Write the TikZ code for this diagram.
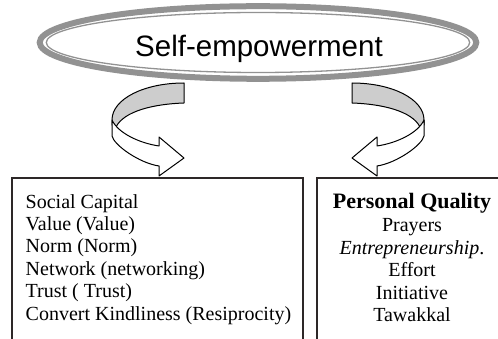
\documentclass[tikz,border=0pt]{standalone}
\usepackage{fontspec}
\setmainfont{Liberation Serif}
\newfontfamily\headfont{Liberation Sans}
\definecolor{ringgray}{RGB}{146,146,146}
\definecolor{bandgray}{RGB}{205,205,205}
\definecolor{boxline}{RGB}{45,40,40}

\tikzset{
  % curved block arrow: back face (grey) and front face with head (white)
  bandback/.style={fill=bandgray, draw=black, line width=1pt, line join=round},
  bandfront/.style={fill=white, draw=black, line width=1pt, line join=round},
  turnarrow/.pic={
    \filldraw[bandback] (0,0) .. controls (-40,0) and (-72,16) .. (-72,37)
      -- (-72,42) -- (-68,44) .. controls (-60,28) and (-30,21) .. (0,20) -- cycle;
    \filldraw[bandfront] (-72,37) -- (-72,53)
      .. controls (-70,62) and (-45,80) .. (-25,83)
      -- (-25,93) -- (0,75) -- (-25,54) -- (-25,63)
      .. controls (-45,60) and (-66,50) .. (-72,37) -- cycle;
  },
  openbox/.style={draw=boxline, line width=1.5pt},
  ringouter/.style={draw=ringgray, line width=6pt},
  ringinner/.style={draw=ringgray, line width=1.3pt},
  bodytext/.style={inner sep=0pt, font=\fontsize{20}{22.4}\selectfont}
}

\begin{document}
\begin{tikzpicture}[x=1pt, y=-1pt]
  \useasboundingbox (0,0) rectangle (498,339);
  \clip (0,0) rectangle (498,339);

  % anchors of the two turning arrows
  \coordinate (leftturn) at (184,83);
  \coordinate (rightturn) at (352,83);
  \pic at (leftturn) {turnarrow};
  \pic[xscale=-1] at (rightturn) {turnarrow};

  % double ring around the title
  \draw[ringouter] (258,42.5) ellipse [x radius=218.3, y radius=36.3];
  \draw[ringinner] (258,42.5) ellipse [x radius=211.7, y radius=30];
  \node[font=\headfont\fontsize{29.5}{34}\selectfont, anchor=base, inner sep=0pt]
    (hub) at (259,56.7) {Self-empowerment};

  % boxes, open towards the bottom edge
  \draw[openbox] (12,360) |- (303,178) -- (303,360);
  \draw[openbox] (317,360) |- (512,178) -- (512,360);

  \node[bodytext, anchor=north west, align=left] (capital) at (25.5,192.3)
    {\strut Social Capital\\ Value (Value)\\ Norm (Norm)\\ Network (networking)\\
     Trust ( Trust)\\ Convert Kindliness (Resiprocity)};

  \node[bodytext, anchor=north, align=center] (quality) at (412,192.3)
    {{\bfseries\fontsize{22}{22.4}\selectfont\strut Personal Quality}\\[1.3pt]
     Prayers\\ \textit{Entrepreneurship}.\\ Effort\\ Initiative\\ Tawakkal};
\end{tikzpicture}
\end{document}
